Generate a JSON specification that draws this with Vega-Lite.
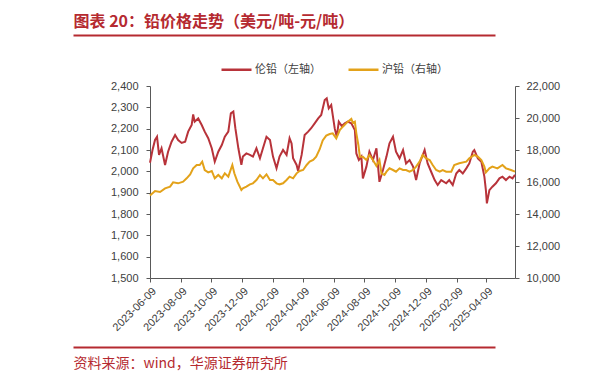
{
  "$schema": "https://vega.github.io/schema/vega-lite/v6.json",
  "width": 365,
  "height": 192,
  "autosize": {"type": "none"},
  "padding": {"left": 150, "top": 86, "right": 99, "bottom": 108},
  "background": "white",
  "config": {"view": {"stroke": null}, "font": "Liberation Sans"},
  "datasets": {
    "lme": [
      {"date": "2023-06-09", "price": 2040}, {"date": "2023-06-14", "price": 2100}, {"date": "2023-06-19", "price": 2147}, {"date": "2023-06-23", "price": 2162},
      {"date": "2023-06-27", "price": 2077}, {"date": "2023-07-02", "price": 2108}, {"date": "2023-07-09", "price": 2030}, {"date": "2023-07-15", "price": 2092},
      {"date": "2023-07-22", "price": 2139}, {"date": "2023-07-29", "price": 2170}, {"date": "2023-08-04", "price": 2147}, {"date": "2023-08-11", "price": 2133},
      {"date": "2023-08-18", "price": 2139}, {"date": "2023-08-24", "price": 2186}, {"date": "2023-08-31", "price": 2217}, {"date": "2023-09-03", "price": 2267},
      {"date": "2023-09-06", "price": 2233}, {"date": "2023-09-13", "price": 2248}, {"date": "2023-09-20", "price": 2217}, {"date": "2023-09-26", "price": 2186},
      {"date": "2023-10-03", "price": 2155}, {"date": "2023-10-10", "price": 2108}, {"date": "2023-10-16", "price": 2045}, {"date": "2023-10-23", "price": 2092},
      {"date": "2023-10-30", "price": 2123}, {"date": "2023-11-05", "price": 2162}, {"date": "2023-11-12", "price": 2186}, {"date": "2023-11-17", "price": 2272},
      {"date": "2023-11-22", "price": 2280}, {"date": "2023-11-26", "price": 2202}, {"date": "2023-12-02", "price": 2108}, {"date": "2023-12-08", "price": 2030},
      {"date": "2023-12-11", "price": 2069}, {"date": "2023-12-18", "price": 2084}, {"date": "2023-12-25", "price": 2077}, {"date": "2023-12-31", "price": 2069},
      {"date": "2024-01-07", "price": 2108}, {"date": "2024-01-14", "price": 2061}, {"date": "2024-01-20", "price": 2108}, {"date": "2024-01-27", "price": 2162},
      {"date": "2024-02-03", "price": 2147}, {"date": "2024-02-09", "price": 2069}, {"date": "2024-02-16", "price": 2014}, {"date": "2024-02-22", "price": 2069},
      {"date": "2024-02-29", "price": 2100}, {"date": "2024-03-07", "price": 2077}, {"date": "2024-03-13", "price": 2155}, {"date": "2024-03-17", "price": 2131},
      {"date": "2024-03-20", "price": 2061}, {"date": "2024-03-27", "price": 2030}, {"date": "2024-03-30", "price": 2002}, {"date": "2024-04-06", "price": 2077},
      {"date": "2024-04-12", "price": 2170}, {"date": "2024-04-19", "price": 2186}, {"date": "2024-04-25", "price": 2202}, {"date": "2024-05-02", "price": 2225},
      {"date": "2024-05-09", "price": 2248}, {"date": "2024-05-15", "price": 2264}, {"date": "2024-05-22", "price": 2334}, {"date": "2024-05-26", "price": 2342},
      {"date": "2024-05-30", "price": 2295}, {"date": "2024-06-04", "price": 2311}, {"date": "2024-06-11", "price": 2200}, {"date": "2024-06-15", "price": 2162},
      {"date": "2024-06-19", "price": 2233}, {"date": "2024-06-25", "price": 2212}, {"date": "2024-07-01", "price": 2225}, {"date": "2024-07-07", "price": 2233},
      {"date": "2024-07-14", "price": 2225}, {"date": "2024-07-21", "price": 2194}, {"date": "2024-07-24", "price": 2084}, {"date": "2024-07-29", "price": 2053},
      {"date": "2024-08-03", "price": 2069}, {"date": "2024-08-06", "price": 1967}, {"date": "2024-08-13", "price": 2022}, {"date": "2024-08-19", "price": 2092},
      {"date": "2024-08-26", "price": 2053}, {"date": "2024-09-02", "price": 2108}, {"date": "2024-09-08", "price": 1951}, {"date": "2024-09-15", "price": 2006},
      {"date": "2024-09-22", "price": 2069}, {"date": "2024-09-28", "price": 2131}, {"date": "2024-10-05", "price": 2162}, {"date": "2024-10-11", "price": 2092},
      {"date": "2024-10-18", "price": 2061}, {"date": "2024-10-25", "price": 2100}, {"date": "2024-10-31", "price": 2037}, {"date": "2024-11-07", "price": 2053},
      {"date": "2024-11-14", "price": 2022}, {"date": "2024-11-20", "price": 1959}, {"date": "2024-11-27", "price": 2037}, {"date": "2024-12-07", "price": 2100},
      {"date": "2024-12-13", "price": 2037}, {"date": "2024-12-20", "price": 1998}, {"date": "2024-12-27", "price": 1959}, {"date": "2025-01-02", "price": 1936},
      {"date": "2025-01-09", "price": 1959}, {"date": "2025-01-19", "price": 1944}, {"date": "2025-01-25", "price": 1959}, {"date": "2025-02-01", "price": 1936},
      {"date": "2025-02-08", "price": 1990}, {"date": "2025-02-14", "price": 2006}, {"date": "2025-02-21", "price": 1990}, {"date": "2025-02-28", "price": 2014},
      {"date": "2025-03-06", "price": 2037}, {"date": "2025-03-13", "price": 2092}, {"date": "2025-03-16", "price": 2100}, {"date": "2025-03-23", "price": 2061},
      {"date": "2025-03-30", "price": 2045}, {"date": "2025-04-05", "price": 1975}, {"date": "2025-04-08", "price": 1912}, {"date": "2025-04-10", "price": 1850},
      {"date": "2025-04-15", "price": 1912}, {"date": "2025-04-21", "price": 1928}, {"date": "2025-04-28", "price": 1944}, {"date": "2025-05-05", "price": 1967},
      {"date": "2025-05-11", "price": 1975}, {"date": "2025-05-18", "price": 1959}, {"date": "2025-05-25", "price": 1975}, {"date": "2025-05-31", "price": 1967},
      {"date": "2025-06-05", "price": 1983}
    ],
    "shfe": [
      {"date": "2023-06-09", "price": 15150}, {"date": "2023-06-19", "price": 15438}, {"date": "2023-06-29", "price": 15375}, {"date": "2023-07-09", "price": 15604},
      {"date": "2023-07-19", "price": 15708}, {"date": "2023-07-25", "price": 15979}, {"date": "2023-08-04", "price": 15917}, {"date": "2023-08-14", "price": 16021},
      {"date": "2023-08-21", "price": 16229}, {"date": "2023-08-28", "price": 16479}, {"date": "2023-09-03", "price": 16854}, {"date": "2023-09-10", "price": 17063},
      {"date": "2023-09-16", "price": 17063}, {"date": "2023-09-21", "price": 17271}, {"date": "2023-09-26", "price": 16750}, {"date": "2023-10-03", "price": 16604},
      {"date": "2023-10-10", "price": 16688}, {"date": "2023-10-16", "price": 16229}, {"date": "2023-10-23", "price": 16438}, {"date": "2023-10-30", "price": 16229},
      {"date": "2023-11-05", "price": 16542}, {"date": "2023-11-12", "price": 16333}, {"date": "2023-11-20", "price": 17063}, {"date": "2023-11-24", "price": 16542},
      {"date": "2023-11-30", "price": 16021}, {"date": "2023-12-08", "price": 15500}, {"date": "2023-12-11", "price": 15604}, {"date": "2023-12-18", "price": 15708},
      {"date": "2023-12-25", "price": 15854}, {"date": "2023-12-31", "price": 15917}, {"date": "2024-01-07", "price": 16125}, {"date": "2024-01-14", "price": 16438},
      {"date": "2024-01-20", "price": 16229}, {"date": "2024-01-27", "price": 16479}, {"date": "2024-02-03", "price": 16125}, {"date": "2024-02-09", "price": 16125},
      {"date": "2024-02-16", "price": 15917}, {"date": "2024-02-22", "price": 15854}, {"date": "2024-02-29", "price": 15917}, {"date": "2024-03-07", "price": 16125},
      {"date": "2024-03-13", "price": 16333}, {"date": "2024-03-20", "price": 16229}, {"date": "2024-03-27", "price": 16542}, {"date": "2024-04-02", "price": 16688},
      {"date": "2024-04-09", "price": 16750}, {"date": "2024-04-16", "price": 17063}, {"date": "2024-04-22", "price": 17271}, {"date": "2024-04-29", "price": 17375},
      {"date": "2024-05-05", "price": 17583}, {"date": "2024-05-12", "price": 18050}, {"date": "2024-05-18", "price": 18600}, {"date": "2024-05-25", "price": 18900},
      {"date": "2024-06-01", "price": 19000}, {"date": "2024-06-07", "price": 19042}, {"date": "2024-06-14", "price": 18729}, {"date": "2024-06-21", "price": 19250},
      {"date": "2024-06-27", "price": 19458}, {"date": "2024-07-07", "price": 19771}, {"date": "2024-07-14", "price": 19950}, {"date": "2024-07-17", "price": 19700},
      {"date": "2024-07-21", "price": 19771}, {"date": "2024-07-24", "price": 19042}, {"date": "2024-07-28", "price": 18313}, {"date": "2024-07-31", "price": 17583},
      {"date": "2024-08-06", "price": 17583}, {"date": "2024-08-13", "price": 17375}, {"date": "2024-08-19", "price": 17688}, {"date": "2024-08-26", "price": 17375},
      {"date": "2024-09-02", "price": 17000}, {"date": "2024-09-08", "price": 17375}, {"date": "2024-09-12", "price": 16542}, {"date": "2024-09-18", "price": 16438},
      {"date": "2024-09-22", "price": 16646}, {"date": "2024-09-28", "price": 16854}, {"date": "2024-10-05", "price": 16750}, {"date": "2024-10-11", "price": 16646},
      {"date": "2024-10-18", "price": 16854}, {"date": "2024-10-25", "price": 16750}, {"date": "2024-10-31", "price": 16750}, {"date": "2024-11-07", "price": 16646},
      {"date": "2024-11-14", "price": 16750}, {"date": "2024-11-20", "price": 16958}, {"date": "2024-11-27", "price": 17271}, {"date": "2024-12-03", "price": 17688},
      {"date": "2024-12-10", "price": 17479}, {"date": "2024-12-17", "price": 17375}, {"date": "2024-12-23", "price": 17063}, {"date": "2024-12-30", "price": 16750},
      {"date": "2025-01-06", "price": 16646}, {"date": "2025-01-12", "price": 16750}, {"date": "2025-01-19", "price": 16646}, {"date": "2025-01-29", "price": 16646},
      {"date": "2025-02-04", "price": 17063}, {"date": "2025-02-14", "price": 17167}, {"date": "2025-02-28", "price": 17271}, {"date": "2025-03-06", "price": 17479},
      {"date": "2025-03-16", "price": 17688}, {"date": "2025-03-23", "price": 17583}, {"date": "2025-03-30", "price": 17375}, {"date": "2025-04-05", "price": 16958},
      {"date": "2025-04-08", "price": 16600}, {"date": "2025-04-15", "price": 16854}, {"date": "2025-04-21", "price": 16958}, {"date": "2025-05-01", "price": 16854},
      {"date": "2025-05-11", "price": 17063}, {"date": "2025-05-18", "price": 16854}, {"date": "2025-05-28", "price": 16750}, {"date": "2025-06-05", "price": 16646}
    ]
  },
  "layer": [
    {
      "data": {"name": "lme"},
      "mark": {"type": "line", "strokeWidth": 2},
      "encoding": {
        "x": {
          "field": "date", "type": "temporal",
          "scale": {"type": "utc", "domain": [{"year": 2023, "month": 6, "date": 9, "utc": true}, {"year": 2025, "month": 6, "date": 5, "utc": true}]},
          "axis": {
            "orient": "bottom", "title": null, "grid": false, "format": "%Y-%m-%d", "labelAngle": -45, "labelOverlap": false,
            "values": [
              {"year": 2023, "month": 6, "date": 9, "utc": true}, {"year": 2023, "month": 8, "date": 9, "utc": true},
              {"year": 2023, "month": 10, "date": 9, "utc": true}, {"year": 2023, "month": 12, "date": 9, "utc": true},
              {"year": 2024, "month": 2, "date": 9, "utc": true}, {"year": 2024, "month": 4, "date": 9, "utc": true},
              {"year": 2024, "month": 6, "date": 9, "utc": true}, {"year": 2024, "month": 8, "date": 9, "utc": true},
              {"year": 2024, "month": 10, "date": 9, "utc": true}, {"year": 2024, "month": 12, "date": 9, "utc": true},
              {"year": 2025, "month": 2, "date": 9, "utc": true}, {"year": 2025, "month": 4, "date": 9, "utc": true}
            ],
            "labelFontSize": 11, "labelColor": "#404040", "labelFont": "Liberation Sans", "labelPadding": 3,
            "tickSize": 4, "tickColor": "#595959", "domainColor": "#595959"
          }
        },
        "y": {
          "field": "price", "type": "quantitative",
          "scale": {"domain": [1500, 2400], "zero": false, "nice": false},
          "axis": {
            "orient": "left", "title": null, "grid": false, "format": ",.0f",
            "values": [1500, 1600, 1700, 1800, 1900, 2000, 2100, 2200, 2300, 2400],
            "labelFontSize": 11, "labelColor": "#404040", "labelFont": "Liberation Sans", "labelPadding": 8,
            "tickSize": 4, "tickColor": "#595959", "domainColor": "#595959"
          }
        },
        "color": {
          "datum": "伦铅（左轴）",
          "scale": {"domain": ["伦铅（左轴）", "沪铅（右轴）"], "range": ["#b8333a", "#e3a21a"]},
          "legend": {
            "orient": "none", "legendX": 70, "legendY": -33, "direction": "horizontal", "columns": 2,
            "title": null, "symbolType": "stroke", "symbolSize": 900, "symbolStrokeWidth": 2.5,
            "labelFontSize": 11, "labelFont": "Noto Sans CJK SC", "labelColor": "#404040",
            "columnPadding": 22, "labelOffset": 2, "padding": 0
          }
        }
      }
    },
    {
      "data": {"name": "shfe"},
      "mark": {"type": "line", "strokeWidth": 2},
      "encoding": {
        "x": {
          "field": "date", "type": "temporal",
          "scale": {"type": "utc", "domain": [{"year": 2023, "month": 6, "date": 9, "utc": true}, {"year": 2025, "month": 6, "date": 5, "utc": true}]},
          "axis": null
        },
        "y": {
          "field": "price", "type": "quantitative",
          "scale": {"domain": [10000, 22000], "zero": false, "nice": false},
          "axis": {
            "orient": "right", "title": null, "grid": false, "format": ",.0f",
            "values": [10000, 12000, 14000, 16000, 18000, 20000, 22000],
            "labelFontSize": 11, "labelColor": "#404040", "labelFont": "Liberation Sans", "labelPadding": 7,
            "tickSize": 4, "tickColor": "#595959", "domainColor": "#595959"
          }
        },
        "color": {"datum": "沪铅（右轴）"}
      }
    },
    {
      "data": {"name": "lme"},
      "mark": {"type": "point", "opacity": 0},
      "encoding": {
        "x": {
          "field": "date", "type": "temporal",
          "scale": {"type": "utc", "domain": [{"year": 2023, "month": 6, "date": 9, "utc": true}, {"year": 2025, "month": 6, "date": 5, "utc": true}], "range": [-77, 345]},
          "axis": {
            "orient": "top", "offset": 51, "domain": true, "domainColor": "#b52a30", "domainWidth": 2,
            "ticks": false, "labels": false, "grid": false,
            "title": "图表 20：铅价格走势（美元/吨-元/吨）", "titleAnchor": "start", "titleAlign": "left",
            "titleFont": "Noto Sans CJK SC", "titleFontSize": 16, "titleFontWeight": "bold", "titleColor": "#b52a30", "titlePadding": 6
          }
        }
      }
    },
    {
      "data": {"name": "lme"},
      "mark": {"type": "point", "opacity": 0},
      "encoding": {
        "x": {
          "field": "date", "type": "temporal",
          "scale": {"type": "utc", "domain": [{"year": 2023, "month": 6, "date": 9, "utc": true}, {"year": 2025, "month": 6, "date": 5, "utc": true}], "range": [-77, 345]},
          "axis": {
            "orient": "bottom", "offset": 69, "domain": true, "domainColor": "#b52a30", "domainWidth": 2,
            "ticks": false, "labels": false, "grid": false,
            "title": "资料来源：wind，华源证券研究所", "titleAnchor": "start", "titleAlign": "left",
            "titleFont": "Noto Sans CJK SC", "titleFontSize": 14, "titleFontWeight": "normal", "titleColor": "#b52a30", "titlePadding": 9
          }
        }
      }
    }
  ],
  "resolve": {"scale": {"x": "independent", "y": "independent"}}
}
